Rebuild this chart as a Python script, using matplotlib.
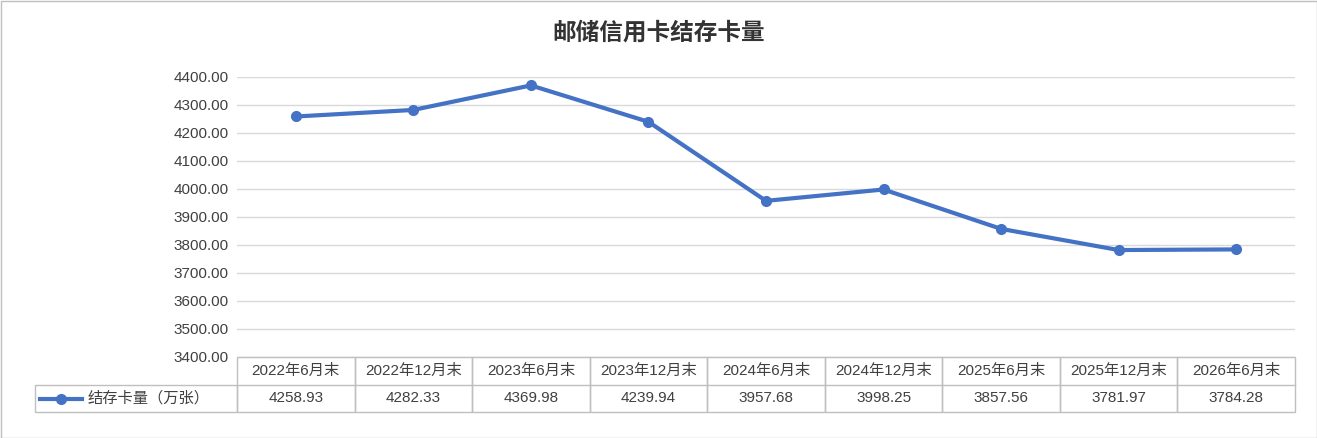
import matplotlib
matplotlib.use("Agg")
import matplotlib.pyplot as plt
from matplotlib.lines import Line2D
from matplotlib.patches import Rectangle

plt.rcParams['font.family'] = ['Liberation Sans', 'Noto Sans CJK SC', 'DejaVu Sans']

categories = ["2022年6月末", "2022年12月末", "2023年6月末", "2023年12月末", "2024年6月末",
              "2024年12月末", "2025年6月末", "2025年12月末", "2026年6月末"]
values = [4258.93, 4282.33, 4369.98, 4239.94, 3957.68, 3998.25, 3857.56, 3781.97, 3784.28]
series_name = "结存卡量（万张）"
title = "邮储信用卡结存卡量"
color = "#4472C4"

W, H = 1317, 438
fig = plt.figure(figsize=(W/100, H/100), dpi=100)
fig.patches.append(Rectangle((0.5/W, 0.5/H), 1-1/W, 1-1/H, transform=fig.transFigure,
                             fill=False, edgecolor="#BFBFBF", lw=1))
L, R, T, B = 237, 1295, 77, 357
ax = fig.add_axes([L/W, 1-B/H, (R-L)/W, (B-T)/H])
x = list(range(len(values)))
ax.plot(x, values, color=color, lw=3, marker='o', ms=7, zorder=3)
ax.set_xlim(-0.5, len(values)-0.5)
ax.set_ylim(3400, 4400)
ax.set_yticks(range(3400, 4401, 100))
ax.set_yticklabels([f"{v:.2f}" for v in range(3400, 4401, 100)], fontsize=11, color="#404040")
ax.set_xticks([])
ax.grid(axis='y', color="#D9D9D9", lw=1)
ax.tick_params(axis='y', length=0, pad=6)
for s in ax.spines.values():
    s.set_visible(False)
ax.set_axisbelow(True)
fig.text(0.5, 1-33/H, title, ha='center', va='center', fontsize=17, fontweight='bold', color="#333333",
         family=['Noto Sans CJK SC', 'DejaVu Sans'])

# data table
ec = "#BFBFBF"
y0, y1, y2 = B, 385, 412
colw = (R-L)/len(values)
def fx(px): return px/W
def fy(py): return 1-py/H
for i, c in enumerate(categories):
    xl = L + i*colw
    fig.patches.append(Rectangle((fx(xl), fy(y2)), colw/W, (y2-y0)/H, transform=fig.transFigure,
                                 fill=False, edgecolor=ec, lw=1))
    fig.add_artist(Line2D([fx(xl), fx(xl+colw)], [fy(y1), fy(y1)], color=ec, lw=1))
    fig.text(fx(xl+colw/2), fy((y0+y1)/2), c, ha='center', va='center', fontsize=11, color="#404040")
    fig.text(fx(xl+colw/2), fy((y1+y2)/2), f"{values[i]:.2f}", ha='center', va='center', fontsize=11, color="#404040")
fig.patches.append(Rectangle((fx(35), fy(y2)), (L-35)/W, (y2-y1)/H, transform=fig.transFigure,
                             fill=False, edgecolor=ec, lw=1))
ym = fy((y1+y2)/2)
fig.add_artist(Line2D([fx(40), fx(82)], [ym, ym], color=color, lw=3))
fig.add_artist(Line2D([fx(61)], [ym], color=color, marker='o', ms=7, lw=0))
fig.text(fx(88), ym, series_name, ha='left', va='center', fontsize=11, color="#404040")

fig.savefig("out.png", dpi=100)
